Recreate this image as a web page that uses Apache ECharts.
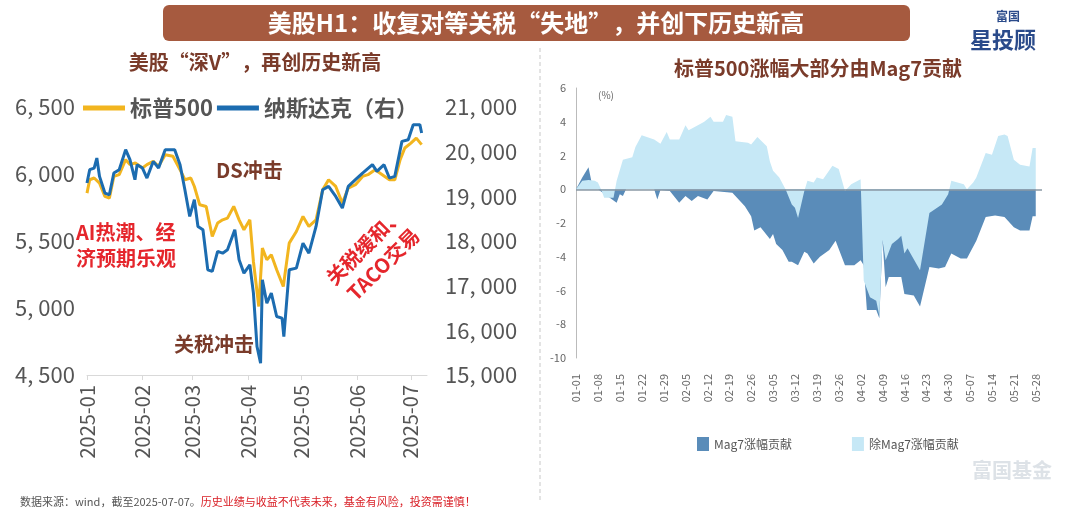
<!DOCTYPE html>
<html>
<head>
<meta charset="utf-8">
<script src="https://cdn.jsdelivr.net/npm/echarts@6/dist/echarts.min.js"></script>
<style>
  html, body { margin: 0; padding: 0; background: #fff; }
  #chart { width: 1080px; height: 514px; }
</style>
</head>
<body>
<div id="chart"></div>
<script>
// Left chart: day offsets from 2025-01-01 and index levels
var spxDays = [0, 1.5, 4, 7, 10, 12.5, 15, 18, 21.6, 24, 27, 31, 33.5, 37, 40, 43.7, 48, 52, 54.7, 58, 60, 63, 66.6, 70, 73, 75.8, 78.5, 82, 85, 87.7, 91, 93, 96, 98, 100.5, 103, 106, 109.7, 113, 117, 120.7, 124, 128, 131.7, 135, 139, 142.7, 146, 150, 154, 157, 161, 165, 169, 172, 175, 177.6, 181, 184, 187];
var spxValues = [5857, 5957, 5970, 5932, 5833, 5820, 5982, 5995, 6107, 6070, 6082, 6045, 6070, 6094, 6057, 6144, 6132, 6032, 5957, 5970, 5907, 5770, 5758, 5534, 5634, 5658, 5671, 5758, 5658, 5584, 5658, 5347, 5011, 5447, 5360, 5397, 5285, 5160, 5484, 5571, 5683, 5609, 5658, 5882, 5957, 5907, 5783, 5895, 5920, 5982, 5995, 6032, 5995, 5957, 5957, 6107, 6194, 6231, 6268, 6219];
var ndxDays = [0, 1.5, 4, 5.5, 7, 10, 12.5, 15, 18, 21.6, 24, 26.8, 28, 31, 33.5, 37, 40, 43.7, 49, 52, 54.7, 57.4, 60, 62, 64.8, 67.5, 70, 73, 75.8, 78.5, 82.6, 85, 87.7, 91, 93, 95, 97, 98, 100.5, 103, 106, 109, 110, 113, 117, 120.7, 124, 128, 131.7, 135, 139, 142.7, 146, 150, 154, 159.5, 162, 166, 169, 172, 176, 179.5, 182.3, 186, 187];
var ndxValues = [19297, 19596, 19633, 19857, 19446, 19073, 19035, 19521, 19596, 20044, 19820, 19372, 19708, 19633, 19409, 19782, 19633, 20044, 20044, 19708, 19147, 18550, 18924, 18326, 18251, 17355, 17318, 17766, 17728, 17803, 18251, 17579, 17280, 17467, 16832, 15637, 15263, 17131, 16608, 16832, 16309, 16272, 15861, 17355, 17393, 17952, 17728, 18326, 19147, 19222, 18998, 18737, 19222, 19372, 19521, 19708, 19559, 19708, 19409, 19446, 20231, 20268, 20604, 20604, 20417];

// Right chart: [day index from 01-01, contribution %]
var mag7Points = [[0,0],[2,0.7],[4,1.3],[5,0.4],[7,0],[10,-0.4],[13,-0.8],[14,-0.3],[15,-0.4],[16,0],[25,0],[26,-0.6],[27,-0.05],[30,-0.1],[33,-0.8],[35,-0.4],[37,-0.7],[39,-0.4],[42,-0.6],[44,-0.1],[50,-0.2],[54,-1.0],[56,-1.6],[57,-2.45],[59,-2.25],[62,-2.95],[63,-2.65],[64,-3.25],[66,-3.6],[68,-4.3],[69,-4.3],[71,-4.5],[73,-3.7],[74,-3.8],[76,-4.4],[78,-4.0],[81,-3.6],[83,-3.05],[86,-4.5],[89,-4.5],[91,-4.2],[92,-4.5],[93,-7.15],[96,-7.15],[97,-7.65],[98,-3.0],[99,-5.8],[100,-5.2],[104,-5.2],[105,-6.2],[108,-6.3],[110,-6.95],[113,-4.6],[116,-4.7],[118,-4.6],[120,-3.8],[123,-4.1],[125,-4.1],[128,-3.05],[131,-1.65],[134,-1.55],[137,-1.65],[140,-2.25],[142,-2.45],[145,-2.45],[146,-1.6],[147,-1.6]];
var exMag7Points = [[0,0],[2,0.5],[4,0.55],[6,0.5],[7,0.4],[8,0],[9,-0.5],[12,-0.5],[13,0.5],[15,1.75],[18,1.9],[19,2.5],[21,3.2],[25,2.95],[27,2.7],[29,3.4],[30,2.95],[33,2.95],[35,3.8],[36,3.5],[40,3.9],[41,4.0],[43,4.3],[44,4.0],[47,4.0],[48,4.4],[50,4.3],[51,2.85],[55,2.75],[56,2.65],[58,3.1],[61,2.55],[62,1.65],[63,1.1],[65,0.7],[67,0],[69,-0.9],[70,-1.1],[71,-1.7],[73,-0.1],[74,0.5],[76,0.4],[77,0.7],[79,0.6],[82,1.4],[84,1.2],[86,-0.1],[88,0.3],[91,0.6],[92,-5.4],[94,-6.4],[96,-6.6],[97,-7.5],[98,-3.0],[99,-4.2],[101,-3.25],[103,-2.95],[104,-2.75],[105,-3.8],[106,-3.5],[110,-4.8],[113,-1.4],[117,-0.9],[119,-0.3],[120,0.5],[124,0.3],[125,0],[127,0.4],[128,0.7],[131,2.15],[133,2.05],[135,3.15],[137,3.25],[138,3.15],[140,1.75],[142,1.45],[145,1.35],[146,2.45],[147,2.45]];

var dayMs = 86400000;
var startMs = Date.UTC(2025, 0, 1);
function toTime(days, values) {
    return days.map(function(d, i) { return [startMs + d * dayMs, values[i]]; });
}
// calendar categories 01-01 .. 05-30
var dateCats = [];
for (var i = 0; i < 150; i++) {
    var dt = new Date(startMs + i * dayMs);
    dateCats.push(('0' + (dt.getUTCMonth() + 1)).slice(-2) + '-' + ('0' + dt.getUTCDate()).slice(-2));
}

var font = 'Noto Sans CJK SC, sans-serif';
var spxColor = '#f2b51f', ndxColor = '#1c6cb0',
    mag7Color = '#5a8cb9', exColor = '#c6e8f6',
    brown = '#7a3b2a', red = '#e5262c';

function thousands(v) {
    return String(v).replace(/\B(?=(\d{3})+(?!\d))/g, ', ');
}

var chart = echarts.init(document.getElementById('chart'));
chart.setOption({
    textStyle: { fontFamily: font },
    animation: false,
    grid: [
        { left: 87, width: 340, top: 107, height: 268 },
        { left: 576, width: 466, top: 88, height: 270 }
    ],
    legend: [
        {
            left: 78, top: 92, itemWidth: 42, itemHeight: 5, itemGap: 4,
            icon: 'rect',
            data: ['标普500', '纳斯达克（右）'],
            textStyle: { fontSize: 22, fontWeight: 'bold', color: '#555', fontFamily: font }
        },
        {
            left: 692, top: 432, itemWidth: 12, itemHeight: 14, itemGap: 60,
            icon: 'rect',
            data: ['Mag7涨幅贡献', '除Mag7涨幅贡献'],
            textStyle: { fontSize: 12, color: '#555', fontFamily: font }
        }
    ],
    xAxis: [
        {
            type: 'time', gridIndex: 0,
            min: startMs, max: Date.UTC(2025, 6, 10),
            minInterval: 28 * dayMs, maxInterval: 31 * dayMs,
            axisLine: { lineStyle: { color: '#d9d9d9' } },
            axisTick: { show: true, lineStyle: { color: '#d9d9d9' } },
            splitLine: { show: false },
            axisLabel: {
                rotate: 90, fontSize: 20, color: '#555', margin: 10,
                formatter: function(v) {
                    var d = new Date(v);
                    return d.getUTCFullYear() + '-' + ('0' + (d.getUTCMonth() + 1)).slice(-2);
                }
            }
        },
        {
            type: 'category', gridIndex: 1, data: dateCats, boundaryGap: false,
            axisLine: { show: false, onZero: false },
            axisTick: { show: false },
            axisLabel: { rotate: 90, fontSize: 11, color: '#666', interval: 6, margin: 16 }
        }
    ],
    yAxis: [
        {
            type: 'value', gridIndex: 0, min: 4500, max: 6500, interval: 500,
            axisLine: { show: false }, axisTick: { show: false }, splitLine: { show: false },
            axisLabel: { fontSize: 22, color: '#555', margin: 12, formatter: thousands }
        },
        {
            type: 'value', gridIndex: 0, min: 15000, max: 21000, interval: 1000, position: 'right',
            axisLine: { show: false }, axisTick: { show: false }, splitLine: { show: false },
            axisLabel: { fontSize: 22, color: '#555', margin: 18, formatter: thousands }
        },
        {
            type: 'value', gridIndex: 1, min: -10, max: 6, interval: 2,
            axisLine: { show: true, lineStyle: { color: '#bbb' } },
            axisTick: { show: false }, splitLine: { show: false },
            axisLabel: { fontSize: 11, color: '#666', margin: 10 }
        }
    ],
    series: [
        {
            name: '标普500', type: 'line', xAxisIndex: 0, yAxisIndex: 0,
            data: toTime(spxDays, spxValues), showSymbol: false,
            lineStyle: { color: spxColor, width: 3 }, itemStyle: { color: spxColor }
        },
        {
            name: '纳斯达克（右）', type: 'line', xAxisIndex: 0, yAxisIndex: 1,
            data: toTime(ndxDays, ndxValues), showSymbol: false,
            lineStyle: { color: ndxColor, width: 3 }, itemStyle: { color: ndxColor }
        },
        {
            name: 'Mag7涨幅贡献', type: 'line', xAxisIndex: 1, yAxisIndex: 2,
            data: mag7Points, showSymbol: false, z: 2,
            lineStyle: { width: 0 }, itemStyle: { color: mag7Color },
            areaStyle: { color: mag7Color, opacity: 1, origin: 0 }
        },
        {
            name: '除Mag7涨幅贡献', type: 'line', xAxisIndex: 1, yAxisIndex: 2,
            data: exMag7Points, showSymbol: false, z: 3,
            lineStyle: { width: 0 }, itemStyle: { color: exColor },
            areaStyle: { color: exColor, opacity: 1, origin: 0 },
            markLine: {
                silent: true, symbol: 'none', label: { show: false },
                lineStyle: { color: '#8a98a4', type: 'solid', width: 1.5 },
                data: [{ yAxis: 0 }]
            }
        }
    ],
    graphic: [
        { type: 'rect', shape: { x: 163, y: 5, width: 747, height: 36, r: 6 }, style: { fill: '#a65a3f' } },
        { type: 'text', x: 536, y: 23, style: { text: '美股H1：收复对等关税“失地”，并创下历史新高', font: 'bold 24px ' + font, fill: '#fff', align: 'center', verticalAlign: 'middle' } },
        { type: 'text', x: 255, y: 62, style: { text: '美股“深V”，再创历史新高', font: 'bold 20px ' + font, fill: brown, align: 'center', verticalAlign: 'middle' } },
        { type: 'text', x: 818, y: 68, style: { text: '标普500涨幅大部分由Mag7贡献', font: 'bold 20px ' + font, fill: brown, align: 'center', verticalAlign: 'middle' } },
        { type: 'text', x: 598, y: 90, style: { text: '(%)', font: '10px ' + font, fill: '#666' } },
        { type: 'line', shape: { x1: 540, y1: 48, x2: 540, y2: 500 }, style: { stroke: '#c8c8c8', lineDash: [4, 3], lineWidth: 1 } },
        { type: 'text', x: 1008, y: 16, style: { text: '富国', font: 'bold 12px ' + font, fill: '#2a4a8a', align: 'center', verticalAlign: 'middle' } },
        { type: 'text', x: 1003, y: 40, style: { text: '星投顾', font: 'bold 22px ' + font, fill: '#2a4a8a', align: 'center', verticalAlign: 'middle' } },
        { type: 'text', x: 216, y: 160, style: { text: 'DS冲击', font: 'bold 20px ' + font, fill: brown } },
        { type: 'text', x: 76, y: 219, style: { text: 'AI热潮、经\n济预期乐观', font: 'bold 20px ' + font, fill: red, lineHeight: 26 } },
        { type: 'text', x: 174, y: 334, style: { text: '关税冲击', font: 'bold 20px ' + font, fill: brown } },
        { type: 'text', x: 374, y: 255, rotation: Math.PI / 4, style: { text: '关税缓和、\nTACO交易', font: 'bold 20px ' + font, fill: red, align: 'center', verticalAlign: 'middle', lineHeight: 26 } },
        { type: 'text', x: 1012, y: 470, style: { text: '富国基金', font: 'bold 20px ' + font, fill: '#dde2e7', align: 'center', verticalAlign: 'middle' } },
        { type: 'text', x: 20, y: 496, style: { rich: { g: { fill: '#555', font: '11px ' + font }, r: { fill: '#d92027', font: '11px ' + font } }, text: '{g|数据来源：wind，截至2025-07-07。}{r|历史业绩与收益不代表未来，基金有风险，投资需谨慎！}' } }
    ]
});
</script>
</body>
</html>
